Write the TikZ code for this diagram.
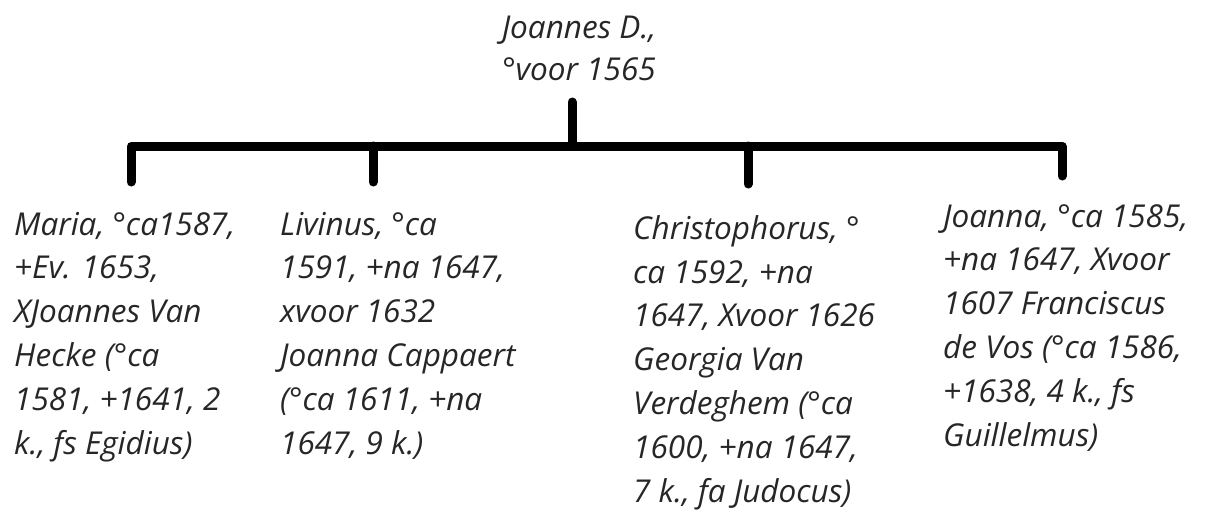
\documentclass[tikz,border=0pt]{standalone}
\usepackage{fontspec}
\setmainfont{Open Sans}
\begin{document}
\begin{tikzpicture}[x=1pt,y=-1pt,
  person/.style={font=\fontsize{31.5}{43.8}\selectfont\itshape, inner sep=0pt, align=left, anchor=base west, text=black!85},
  line/.style={line width=9pt, line cap=round, line join=round}]
\useasboundingbox (0,0) rectangle (1206,511);
\node[person, align=center, anchor=base, font=\fontsize{31.5}{42}\selectfont\itshape] (p) at (579,80) {Joannes D.,\\°voor 1565};
\node[person] (c1) at (14,454) {Maria, °ca1587,\\+Ev. 1653,\\XJoannes Van\\Hecke (°ca\\1581, +1641, 2\\k., fs Egidius)};
\node[person] (c2) at (280,454) {Livinus, °ca\\1591, +na 1647,\\xvoor 1632\\Joanna Cappaert\\(°ca 1611, +na\\1647, 9 k.)};
\node[person] (c3) at (633,502) {Christophorus, °\\ca 1592, +na\\1647, Xvoor 1626\\Georgia Van\\Verdeghem (°ca\\1600, +na 1647,\\7 k., fa Judocus)};
\node[person] (c4) at (943,446) {Joanna, °ca 1585,\\+na 1647, Xvoor\\1607 Franciscus\\de Vos (°ca 1586,\\+1638, 4 k., fs\\Guillelmus)};
\coordinate (top) at (572,102);
\coordinate (mid) at (572,146);
\coordinate (b1) at (131,146);
\coordinate (b2) at (373,146);
\coordinate (b3) at (748,146);
\coordinate (b4) at (1062,146);
\coordinate (d1) at (131,182);
\coordinate (d2) at (373,182);
\coordinate (d3) at (748,184);
\coordinate (d4) at (1062,176);
\draw[line] (top) -- (mid);
\draw[line] (d1) -- (b1) -- (b4) -- (d4);
\draw[line] (b2) -- (d2);
\draw[line] (b3) -- (d3);
\end{tikzpicture}
\end{document}
